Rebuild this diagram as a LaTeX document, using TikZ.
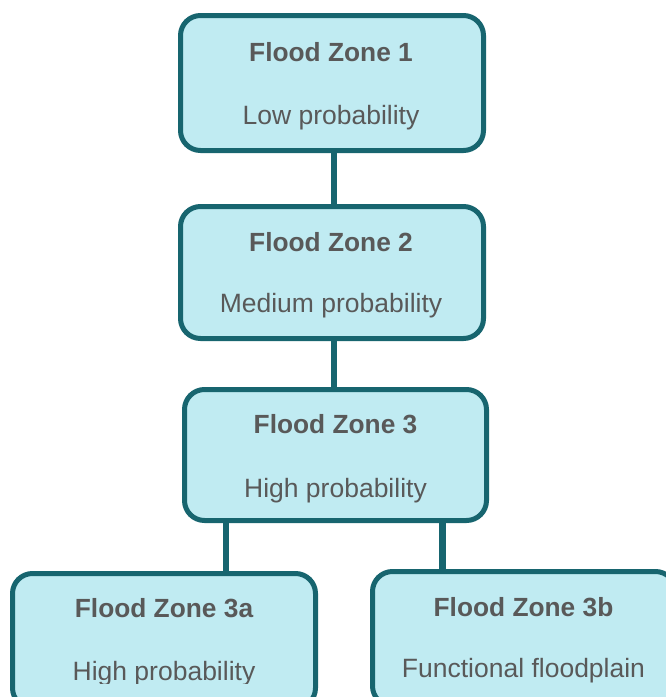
\documentclass[tikz,border=0pt]{standalone}
\usepackage{fontspec}
\setmainfont{Liberation Sans}
\usetikzlibrary{backgrounds}
\definecolor{zfill}{HTML}{C0EBF2}
\definecolor{zline}{HTML}{17656F}
\definecolor{ztext}{HTML}{595959}
\begin{document}
\begin{tikzpicture}[x=1pt,y=-1pt,
  zone/.style={draw=zline, fill=zfill, line width=5pt, rounded corners=20pt, inner sep=0pt},
  link/.style={draw=zline, line width=6.5pt},
  ttl/.style={anchor=base, text=ztext, font=\fontsize{26.3}{30}\selectfont\bfseries, inner sep=0pt},
  sub/.style={anchor=base, text=ztext, font=\fontsize{26.5}{30}\selectfont, inner sep=0pt}]
\useasboundingbox (0,0) rectangle (666,697);
\clip (0,0) rectangle (666,697);
% junction x positions
\coordinate (c12) at (334,180);
\coordinate (c23) at (334,365);
\coordinate (c3a) at (226,545);
\coordinate (c3b) at (442.5,545);
% boxes
\path (332,83) node[zone, minimum width=303pt, minimum height=135pt] (z1) {};
\path (332,272.5) node[zone, minimum width=303pt, minimum height=132pt] (z2) {};
\path (335.5,455) node[zone, minimum width=302pt, minimum height=131pt] (z3) {};
\path (164,640.75) node[zone, minimum width=303pt, minimum height=134.5pt] (z3a) {};
\path (524,638.75) node[zone, minimum width=303pt, minimum height=134.5pt] (z3b) {};
% connectors behind boxes
\begin{scope}[on background layer]
  \draw[link] (z1.south -| c12) -- (z2.north -| c12);
  \draw[link] (z2.south -| c23) -- (z3.north -| c23);
  \draw[link] (z3.south -| c3a) -- (z3a.north -| c3a);
  \draw[link] (z3.south -| c3b) -- (z3b.north -| c3b);
\end{scope}
% texts
\node[ttl] (t1) at (331,61) {Flood Zone 1};
\node[sub] (s1) at (331,124) {Low probability};
\node[ttl] (t2) at (331,251) {Flood Zone 2};
\node[sub] (s2) at (331,312) {Medium probability};
\node[ttl] (t3) at (335.5,433) {Flood Zone 3};
\node[sub] (s3) at (335.5,497) {High probability};
\node[ttl] (t3a) at (164,617) {Flood Zone 3a};
\node[ttl] (t3b) at (523.5,616) {Flood Zone 3b};
\begin{scope}
  \clip (0,0) rectangle (666,683);
  \node[sub] (s3a) at (164,680) {High probability};
  \node[sub] (s3b) at (523.5,677) {Functional floodplain};
\end{scope}
\end{tikzpicture}
\end{document}
